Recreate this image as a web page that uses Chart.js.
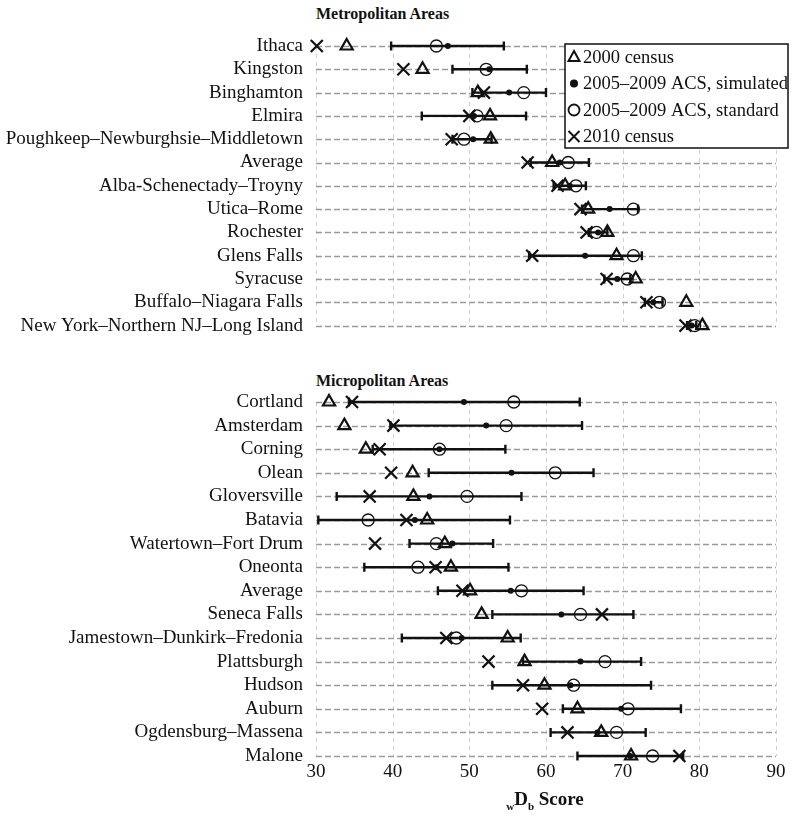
<!DOCTYPE html>
<html>
<head>
<meta charset="utf-8">
<script src="https://cdn.jsdelivr.net/npm/chart.js@4.4.0/dist/chart.umd.min.js"></script>
<style>
  body { margin: 0; background: #fff; }
  #page { position: relative; width: 800px; height: 816px; font-family: "Liberation Serif", serif; color: #111; }
  .box { position: absolute; left: 0; width: 800px; }
  .section { position: absolute; left: 316px; font-weight: bold; font-size: 16px; }
  #xTitle { position: absolute; top: 788px; left: 0; width: 1090px; text-align: center; font-weight: bold; font-size: 19px; }
  #xTitle sub { font-size: 11px; }
</style>
</head>
<body>
<div id="page">
  <div class="section" style="top:5px">Metropolitan Areas</div>
  <div class="section" style="top:372px">Micropolitan Areas</div>
  <div class="box" style="top:0; height:350px"><canvas id="metroChart"></canvas></div>
  <div class="box" style="top:360px; height:456px"><canvas id="microChart"></canvas></div>
  <div id="xTitle"><sub>w</sub>D<sub>b</sub> Score</div>
</div>
<script>
// Metropolitan areas
const metroLabels = ['Ithaca', 'Kingston', 'Binghamton', 'Elmira', 'Poughkeep–Newburghsie–Middletown', 'Average',
    'Alba-Schenectady–Troyny', 'Utica–Rome', 'Rochester', 'Glens Falls', 'Syracuse', 'Buffalo–Niagara Falls',
    'New York–Northern NJ–Long Island'];
const metroCensus2000 = [34.0, 43.9, 51.1, 52.7, 52.8, 60.8, 62.5, 65.5, 68.0, 69.2, 71.7, 78.3, 80.4];
const metroSimulated = [47.2, 52.6, 55.2, 50.6, 50.5, 61.8, 63.1, 68.3, 66.8, 65.1, 69.3, 74.0, 79.0];
const metroStandard = [45.7, 52.2, 57.1, 51.0, 49.3, 62.9, 63.9, 71.4, 66.6, 71.4, 70.6, 74.8, 79.4];
const metroCensus2010 = [30.1, 41.4, 51.9, 50.0, 47.7, 57.6, 61.5, 64.5, 65.3, 58.2, 67.9, 73.1, 78.2];
const metroLow = [39.8, 47.8, 50.4, 43.8, 47.8, 58.0, 61.0, 64.7, 65.6, 57.8, 67.6, 72.9, 78.4];
const metroHigh = [54.5, 57.5, 60.0, 57.4, 52.9, 65.6, 65.2, 72.0, 68.0, 72.5, 71.0, 75.2, 79.6];

// Micropolitan areas
const microLabels = ['Cortland', 'Amsterdam', 'Corning', 'Olean', 'Gloversville', 'Batavia', 'Watertown–Fort Drum',
    'Oneonta', 'Average', 'Seneca Falls', 'Jamestown–Dunkirk–Fredonia', 'Plattsburgh', 'Hudson', 'Auburn',
    'Ogdensburg–Massena', 'Malone'];
const microCensus2000 = [31.7, 33.7, 36.5, 42.6, 42.7, 44.5, 46.8, 47.6, 50.1, 51.6, 55.0, 57.2, 59.8, 64.1, 67.2, 71.1];
const microSimulated = [49.3, 52.2, 46.1, 55.5, 44.8, 42.9, 47.8, 45.7, 55.4, 62.0, 49.0, 64.5, 63.2, 69.8, 66.7, 71.0];
const microStandard = [55.8, 54.8, 46.1, 61.2, 49.7, 36.8, 45.7, 43.3, 56.8, 64.5, 48.3, 67.7, 63.6, 70.7, 69.2, 73.9];
const microCensus2010 = [34.7, 40.1, 38.3, 39.8, 37.0, 41.8, 37.7, 45.6, 49.1, 67.3, 47.0, 52.5, 57.0, 59.5, 62.8, 77.4];
const microLow = [34.3, 39.7, 37.4, 44.7, 32.7, 30.3, 42.2, 36.3, 45.9, 53.0, 41.2, 57.0, 53.0, 62.2, 60.6, 64.1];
const microHigh = [64.4, 64.7, 54.7, 66.2, 56.8, 55.3, 53.1, 55.1, 64.9, 71.4, 56.7, 72.4, 73.7, 77.6, 73.0, 77.9];

const seriesNames = ['2000 census', '2005–2009 ACS, simulated', '2005–2009 ACS, standard', '2010 census'];
const xTicks = [30, 40, 50, 60, 70, 80, 90];

const FONT = '"Liberation Serif", serif';
const INK = '#111';

// marker styles for the four series
const markerStyles = [
    { pointStyle: 'triangle', pointRadius: 7, pointBorderWidth: 2.2, pointBackgroundColor: 'rgba(0,0,0,0)' },
    { pointStyle: 'circle', pointRadius: 3, pointBorderWidth: 0, pointBackgroundColor: INK },
    { pointStyle: 'circle', pointRadius: 6, pointBorderWidth: 1.3, pointBackgroundColor: 'rgba(0,0,0,0)' },
    { pointStyle: 'crossRot', pointRadius: 8.5, pointBorderWidth: 2.2, pointBackgroundColor: 'rgba(0,0,0,0)' }
];

function buildDatasets(values) {
    return values.map((data, i) => ({
        label: seriesNames[i],
        data: data,
        showLine: false,
        clip: false,
        borderColor: INK,
        pointBorderColor: INK,
        pointHoverRadius: markerStyles[i].pointRadius,
        ...markerStyles[i]
    }));
}

// horizontal error bars drawn through the scales
function errorBarPlugin(low, high) {
    return {
        id: 'errorBars',
        beforeDatasetsDraw(chart) {
            const ctx = chart.ctx;
            const xs = chart.scales.x, ys = chart.scales.y;
            ctx.save();
            ctx.strokeStyle = INK;
            ctx.lineWidth = 2.4;
            low.forEach((lo, i) => {
                const y = ys.getPixelForValue(i);
                const x1 = xs.getPixelForValue(lo);
                const x2 = xs.getPixelForValue(high[i]);
                ctx.beginPath();
                ctx.moveTo(x1, y); ctx.lineTo(x2, y);
                ctx.moveTo(x1, y - 4.5); ctx.lineTo(x1, y + 4.5);
                ctx.moveTo(x2, y - 4.5); ctx.lineTo(x2, y + 4.5);
                ctx.stroke();
            });
            ctx.restore();
        }
    };
}

function drawSymbol(ctx, style, x, y) {
    ctx.beginPath();
    if (style === 'triangle') {
        ctx.moveTo(x, y - 6); ctx.lineTo(x + 5.5, y + 4); ctx.lineTo(x - 5.5, y + 4); ctx.closePath();
        ctx.lineWidth = 2; ctx.stroke();
    } else if (style === 'dot') {
        ctx.arc(x, y, 4, 0, Math.PI * 2); ctx.fill();
    } else if (style === 'ring') {
        ctx.arc(x, y, 5.5, 0, Math.PI * 2); ctx.lineWidth = 1.8; ctx.stroke();
    } else {
        ctx.moveTo(x - 5.5, y - 5.5); ctx.lineTo(x + 5.5, y + 5.5);
        ctx.moveTo(x + 5.5, y - 5.5); ctx.lineTo(x - 5.5, y + 5.5);
        ctx.lineWidth = 2; ctx.stroke();
    }
}

const legendPlugin = {
    id: 'boxLegend',
    afterDraw(chart) {
        const ctx = chart.ctx;
        const left = 565, top = 44, w = 223, h = 104;
        ctx.save();
        ctx.fillStyle = '#fff';
        ctx.fillRect(left, top, w, h);
        ctx.strokeStyle = INK;
        ctx.lineWidth = 1.5;
        ctx.strokeRect(left, top, w, h);
        const symbols = ['triangle', 'dot', 'ring', 'cross'];
        ctx.font = '18.5px ' + FONT;
        ctx.textBaseline = 'middle';
        seriesNames.forEach((name, i) => {
            const y = top + 13 + i * 26.5;
            ctx.fillStyle = INK; ctx.strokeStyle = INK;
            drawSymbol(ctx, symbols[i], left + 9, y);
            ctx.fillStyle = INK;
            ctx.fillText(name, left + 18, y + 1);
        });
        ctx.restore();
    }
};

function makeOptions(labels, showXTicks, padding) {
    return {
        indexAxis: 'y',
        responsive: true,
        maintainAspectRatio: false,
        animation: false,
        layout: { padding: padding },
        plugins: { legend: { display: false }, tooltip: { enabled: false } },
        scales: {
            x: {
                type: 'linear', min: 30, max: 90,
                afterBuildTicks: (scale) => { scale.ticks = xTicks.map(v => ({ value: v })); },
                afterFit: (scale) => { scale.height = showXTicks ? 30 : 0; },
                border: { display: false },
                grid: { display: false, drawTicks: false },
                ticks: { display: showXTicks, padding: 5, color: INK, font: { family: FONT, size: 19 } }
            },
            y: {
                type: 'category', labels: labels, offset: false,
                afterFit: (scale) => { scale.width = 316; },
                border: { display: false },
                grid: { display: false, drawTicks: false },
                ticks: { padding: 13, color: INK, autoSkip: false, font: { family: FONT, size: 19 } }
            }
        }
    };
}

// dashed grid lines: light verticals at the x ticks, darker horizontals at each category
function dashedGrid(chart) {
    const ctx = chart.ctx, area = chart.chartArea;
    const xs = chart.scales.x, ys = chart.scales.y;
    ctx.save();
    ctx.setLineDash([4, 4]);
    ctx.strokeStyle = '#cfcfcf';
    ctx.lineWidth = 1;
    xTicks.forEach(v => {
        const x = Math.round(xs.getPixelForValue(v)) + 0.5;
        ctx.beginPath(); ctx.moveTo(x, area.top); ctx.lineTo(x, area.bottom); ctx.stroke();
    });
    ctx.setLineDash([6, 3]);
    ctx.strokeStyle = '#9a9a9a';
    ctx.lineWidth = 1.4;
    ys.ticks.forEach((t, i) => {
        const y = Math.round(ys.getPixelForValue(i)) + 0.5;
        ctx.beginPath(); ctx.moveTo(area.left, y); ctx.lineTo(area.right, y); ctx.stroke();
    });
    ctx.restore();
}

const gridPlugin = { id: 'dashedGrid', beforeDatasetsDraw: dashedGrid };

new Chart(document.getElementById('metroChart'), {
    type: 'line',
    data: {
        labels: metroLabels,
        datasets: buildDatasets([metroCensus2000, metroSimulated, metroStandard, metroCensus2010])
    },
    options: makeOptions(metroLabels, false, { top: 46, right: 24, bottom: 22, left: 0 }),
    plugins: [gridPlugin, errorBarPlugin(metroLow, metroHigh), legendPlugin]
});

new Chart(document.getElementById('microChart'), {
    type: 'line',
    data: {
        labels: microLabels,
        datasets: buildDatasets([microCensus2000, microSimulated, microStandard, microCensus2010])
    },
    options: makeOptions(microLabels, true, { top: 42, right: 24, bottom: 30, left: 0 }),
    plugins: [gridPlugin, errorBarPlugin(microLow, microHigh)]
});
</script>
</body>
</html>
